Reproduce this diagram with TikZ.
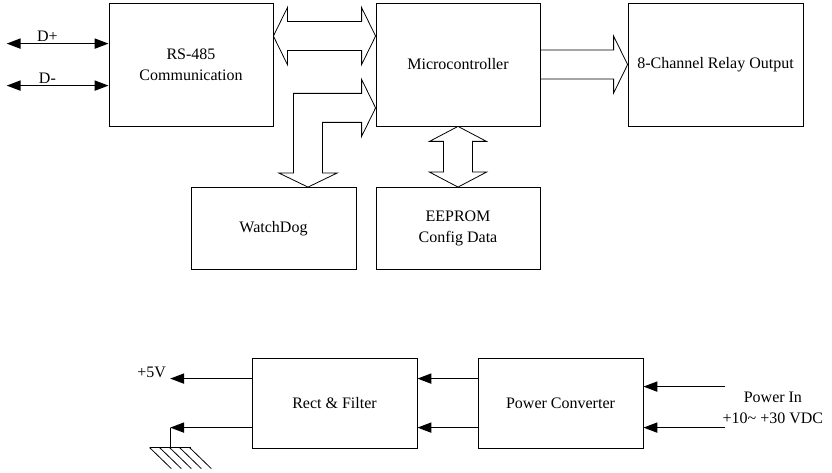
\documentclass[tikz,border=0pt]{standalone}
\usepackage{fontspec}
\setmainfont{Liberation Serif}
\usepackage{tikz}
\usetikzlibrary{positioning, calc, arrows.meta}

\tikzset{
  blk/.style={draw, line width=0.8pt, minimum width=164pt, minimum height=123pt, align=center, inner sep=2pt},
  bus/.style={draw, line width=0.8pt, line join=miter},
  sig/.style={line width=1.8pt, >={Triangle[length=14pt,width=10pt]}}
}

\begin{document}
\begin{tikzpicture}[x=1pt, y=1pt, node distance=2cm, on grid, font=\fontsize{16}{21}\selectfont]
        \useasboundingbox (0,0) rectangle (832,473);

        % data part
        \node[blk] (rs) at (191,408.5) {RS-485\\Communication};
        \node[blk, right=267pt of rs] (mcu) {Microcontroller};
        \node[blk, right=257.5pt of mcu, minimum width=175pt] (relay) {8-Channel Relay Output};
        \node[blk, below=164pt of mcu, minimum height=82pt] (ee) {EEPROM\\Config Data};
        \node[blk, left=184.5pt of ee, minimum width=165pt, minimum height=82pt] (wd) {WatchDog};

        % power part
        \node[blk, minimum width=165pt, minimum height=90pt] (rect) at (334.5,70) {Rect \& Filter};
        \node[blk, right=226pt of rect, minimum width=165pt, minimum height=90pt] (pc) {Power Converter};

        % wide arrows
        \coordinate (b1) at ($(rs.north east)+(0,-33.5)$);
        \coordinate (b2) at (b1 -| mcu.west);
        \path[bus] (b1) -- ++(14,28.5) -- ++(0,-14) -- ($(b2)+(-14,14.5)$) -- ++(0,14) -- (b2)
             -- ++(-14,-28.5) -- ++(0,14) -- ($(b1)+(14,-14.5)$) -- ++(0,-14) -- cycle;

        \coordinate (wt) at ($(wd.north)+(34.5,0)$);
        \coordinate (mt) at ($(mcu.south west)+(0,18.5)$);
        \path[bus] (wt) -- ++(-29,14) -- ++(14.5,0) -- ($(wt |- mt)+(-14.5,14.5)$) -- ($(mt)+(-14,14.5)$)
             -- ++(0,14) -- (mt) -- ++(-14,-28.5) -- ++(0,14) -- ($(wt |- mt)+(14.5,-14.5)$)
             -- ($(wt)+(14.5,14)$) -- ++(14.5,0) -- cycle;

        \coordinate (r2) at ($(relay.north west)+(0,-62)$);
        \coordinate (r1) at (r2 -| mcu.east);
        \path[bus] ($(r1)+(0,14.5)$) -- ($(r2)+(-14,14.5)$) -- ++(0,14) -- (r2)
             -- ++(-14,-28.5) -- ++(0,14) -- ($(r1)+(0,-14.5)$);

        \path[bus] (mcu.south) -- ++(28.5,-15) -- ++(-14,0) -- ($(ee.north)+(14.5,15)$) -- ++(14,0) -- (ee.north)
             -- ++(-28.5,15) -- ++(14,0) -- ($(mcu.south)+(-14.5,-15)$) -- ++(-14,0) -- cycle;

        % RS-485 lines
        \coordinate (dp) at ($(rs.north west)+(-102,-41)$);
        \coordinate (dm) at ($(rs.north west)+(-102,-83)$);
        \draw[sig, <->] (dp) -- (dp -| rs.west) node[pos=0.4, above, inner sep=1pt] {D+};
        \draw[sig, <->] (dm) -- (dm -| rs.west) node[pos=0.4, above, inner sep=1pt] {D-};

        % power lines
        \coordinate (p1) at ($(pc.north west)+(0,-21)$);
        \coordinate (p2) at ($(pc.north west)+(0,-70)$);
        \draw[sig, ->] (p1) -- (p1 -| rect.east);
        \draw[sig, ->] (p2) -- (p2 -| rect.east);

        \coordinate (v1) at ($(rect.north west)+(0,-21)$);
        \coordinate (g1) at ($(rect.north west)+(0,-70)$);
        \coordinate (vout) at ($(v1)+(-81.5,0)$);
        \coordinate (gnd) at ($(g1)+(-81.5,0)$);
        \draw[sig, ->] (v1) -- (vout);
        \node[left=4pt of vout, anchor=east, yshift=6pt, inner sep=0pt] (v5) {+5V};
        \draw[sig, ->] (g1) -- (gnd);

        % ground
        \draw[line width=0.8pt] (gnd) -- ++(0,-20) coordinate (gb);
        \draw[line width=0.8pt] ($(gb)+(-20.5,0)$) -- ($(gb)+(21,0)$);
        \foreach \i in {0,...,4}
            \draw[line width=0.8pt] ($(gb)+(-20.5+10*\i,0)$) -- ++(21.7,-21);

        % power in
        \coordinate (q1) at ($(pc.north east)+(82,-29)$);
        \coordinate (q2) at ($(pc.north east)+(82,-70)$);
        \draw[sig, ->] (q1) -- (q1 -| pc.east);
        \draw[sig, ->] (q2) -- (q2 -| pc.east);
        \node[align=center, inner sep=0pt] (pin) at ($(pc.east)+(129.5,-5)$) {Power In\\+10\textasciitilde{} +30 VDC};

    \end{tikzpicture}
\end{document}
